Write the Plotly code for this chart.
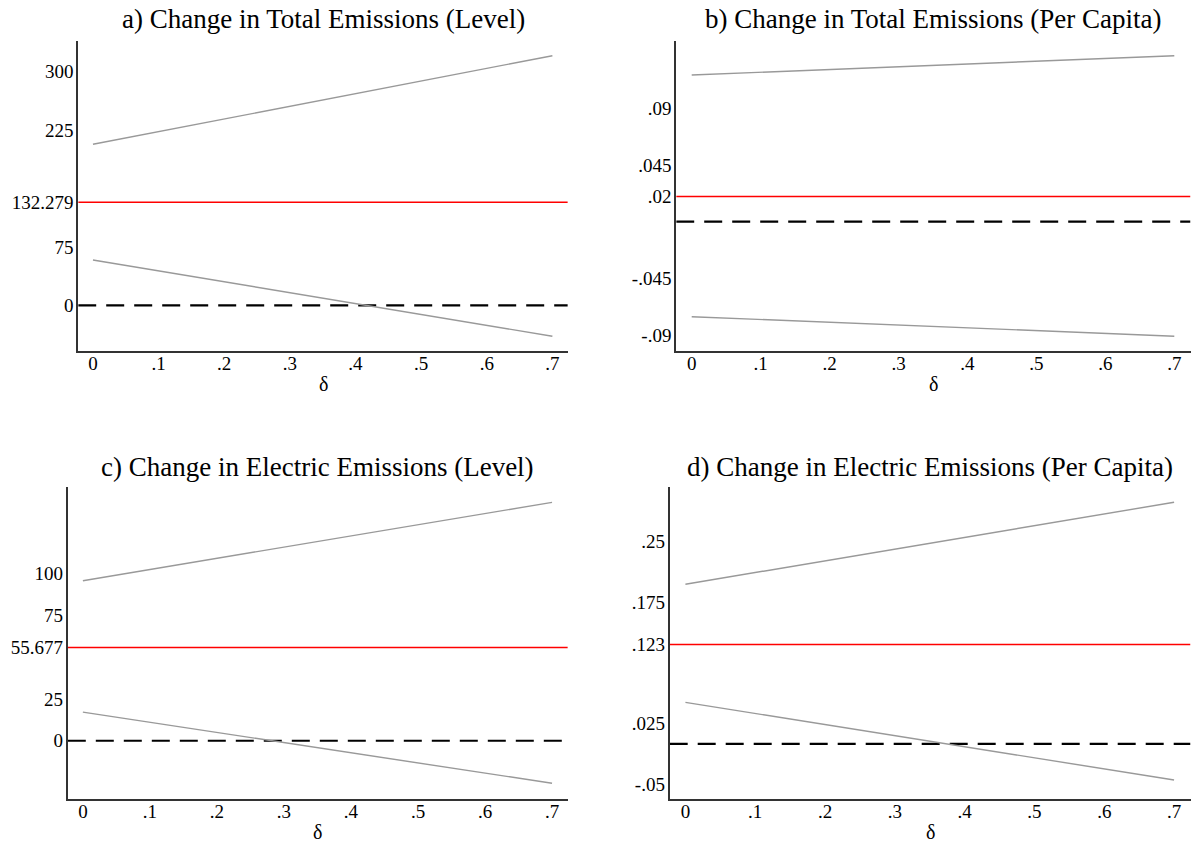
import plotly.graph_objects as go

# ---------------- data ----------------
delta_ends = [0.0, 0.7]
delta_span = [-0.0225, 0.7235]

# a) Total emissions (level)
a_center = 132.279
a_upper = [206.8, 320.5]
a_lower = [58.2, -39.8]
a_ticks = [0, 75, 132.279, 225, 300]
a_ticklabels = ["0", "75", "132.279", "225", "300"]
a_range = [-59.1, 339.8]

# b) Total emissions (per capita)
b_center = 0.02
b_upper = [0.1165, 0.1319]
b_lower = [-0.0755, -0.091]
b_ticks = [-0.09, -0.045, 0.02, 0.045, 0.09]
b_ticklabels = ["-.09", "-.045", ".02", ".045", ".09"]
b_range = [-0.103, 0.1438]

# c) Electric emissions (level)
c_center = 55.677
c_upper = [95.6, 142.4]
c_lower = [17.1, -25.4]
c_ticks = [0, 25, 55.677, 75, 100]
c_ticklabels = ["0", "25", "55.677", "75", "100"]
c_range = [-34.8, 151.4]

# d) Electric emissions (per capita)
d_center = 0.123
d_upper = [0.1974, 0.2988]
d_lower = [0.0514, -0.0446]
d_ticks = [-0.05, 0.025, 0.123, 0.175, 0.25]
d_ticklabels = ["-.05", ".025", ".123", ".175", ".25"]
d_range = [-0.0681, 0.3173]

x_ticks = [0, 0.1, 0.2, 0.3, 0.4, 0.5, 0.6, 0.7]
x_ticklabels = ["0", ".1", ".2", ".3", ".4", ".5", ".6", ".7"]

titles = [
    "a) Change in Total Emissions (Level)",
    "b) Change in Total Emissions (Per Capita)",
    "c) Change in Electric Emissions (Level)",
    "d) Change in Electric Emissions (Per Capita)",
]

# ---------------- layout geometry ----------------
W, H = 1193, 843
FONT = "Liberation Serif, Times New Roman, serif"


def fx(px):
    return px / W


def fy(py):
    return 1 - py / H


panels = [
    dict(center=a_center, upper=a_upper, lower=a_lower, ticks=a_ticks, labels=a_ticklabels,
         yr=a_range, xd=[fx(78.2), fx(567.8)], yd=[fy(351.3), fy(40.7)]),
    dict(center=b_center, upper=b_upper, lower=b_lower, ticks=b_ticks, labels=b_ticklabels,
         yr=b_range, xd=[fx(676.2), fx(1190.5)], yd=[fy(351.3), fy(40.7)]),
    dict(center=c_center, upper=c_upper, lower=c_lower, ticks=c_ticks, labels=c_ticklabels,
         yr=c_range, xd=[fx(67.8), fx(567.8)], yd=[fy(799), fy(487.3)]),
    dict(center=d_center, upper=d_upper, lower=d_lower, ticks=d_ticks, labels=d_ticklabels,
         yr=d_range, xd=[fx(669.7), fx(1190.5)], yd=[fy(799), fy(487.3)]),
]

fig = go.Figure()
layout = dict(
    width=W, height=H,
    margin=dict(l=0, r=0, t=0, b=0),
    paper_bgcolor="white", plot_bgcolor="white",
    showlegend=False,
    font=dict(family=FONT, color="black", size=19),
)
annotations = []

for i, p in enumerate(panels):
    n = "" if i == 0 else str(i + 1)
    xa, ya = "x" + n, "y" + n
    fig.add_trace(go.Scatter(x=delta_span, y=[0, 0], mode="lines", xaxis=xa, yaxis=ya,
                             line=dict(color="black", width=2.2, dash="18px,10px"), hoverinfo="skip"))
    fig.add_trace(go.Scatter(x=delta_span, y=[p["center"], p["center"]], mode="lines", xaxis=xa, yaxis=ya,
                             line=dict(color="#ff0000", width=1.4), hoverinfo="skip"))
    fig.add_trace(go.Scatter(x=delta_ends, y=p["upper"], mode="lines", xaxis=xa, yaxis=ya,
                             line=dict(color="#999999", width=1.4), hoverinfo="skip"))
    fig.add_trace(go.Scatter(x=delta_ends, y=p["lower"], mode="lines", xaxis=xa, yaxis=ya,
                             line=dict(color="#999999", width=1.4), hoverinfo="skip"))

    layout["xaxis" + n] = dict(
        domain=p["xd"], anchor=ya, range=delta_span, tickmode="array",
        tickvals=x_ticks, ticktext=x_ticklabels, ticks="", showgrid=False, zeroline=False,
        showline=True, linecolor="#333333", linewidth=2, tickfont=dict(size=19, family=FONT),
        ticklabelstandoff=-6,
    )
    layout["yaxis" + n] = dict(
        domain=p["yd"], anchor=xa, range=p["yr"], tickmode="array",
        tickvals=p["ticks"], ticktext=p["labels"], ticks="", showgrid=False, zeroline=False,
        showline=True, linecolor="#333333", linewidth=2, tickfont=dict(size=19, family=FONT),
        ticklabelstandoff=-1,
    )
    xc = (p["xd"][0] + p["xd"][1]) / 2
    title_y = fy(19) if i < 2 else fy(466.7)
    delta_y = fy(384) if i < 2 else fy(832)
    annotations.append(dict(text=titles[i], x=xc, y=title_y, xref="paper", yref="paper",
                            xanchor="center", yanchor="middle", showarrow=False,
                            font=dict(size=27, family=FONT, color="black")))
    annotations.append(dict(text="δ", x=xc, y=delta_y, xref="paper", yref="paper",
                            xanchor="center", yanchor="middle", showarrow=False,
                            font=dict(size=20, family=FONT, color="black")))

layout["annotations"] = annotations
fig.update_layout(**layout)
# remove the default page margin so the figure fills the browser window exactly
fig.write_html("out.html", config={"displayModeBar": False},
               post_script="document.body.style.margin='0';")
